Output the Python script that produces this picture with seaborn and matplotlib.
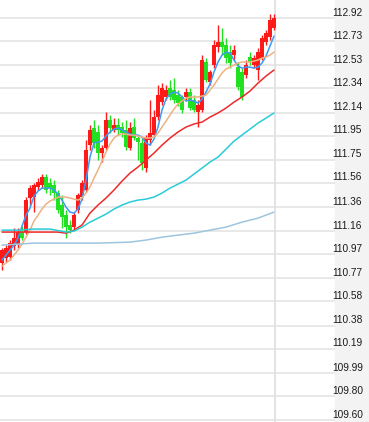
import matplotlib
matplotlib.use('Agg')
import matplotlib.pyplot as plt
import matplotlib.transforms as mtransforms
from matplotlib.patches import Rectangle
import numpy as np
import pandas as pd
import seaborn as sns

# Velas (OHLC)
opens = [110.897, 110.938, 110.946, 111.037, 111.045, 111.153, 111.153, 111.434, 111.442, 111.524,
         111.541, 111.607, 111.557, 111.541, 111.475, 111.376, 111.293, 111.211, 111.194, 111.334,
         111.442, 111.500, 111.871, 112.012, 111.979, 111.805, 111.846, 112.078, 111.995, 112.036,
         112.020, 111.995, 111.846, 112.020, 111.929, 111.888, 111.681, 111.913, 111.954, 112.102,
         112.226, 112.268, 112.342, 112.325, 112.284, 112.268, 112.268, 112.309, 112.243, 112.144,
         112.160, 112.557, 112.391, 112.532, 112.681, 112.722, 112.697, 112.639, 112.614, 112.515,
         112.474, 112.449, 112.598, 112.532, 112.491, 112.590, 112.722, 112.763, 112.837]
closes = [111.004, 111.021, 111.062, 111.103, 111.153, 111.103, 111.417, 111.516, 111.541, 111.566,
          111.607, 111.500, 111.516, 111.475, 111.334, 111.277, 111.194, 111.169, 111.293, 111.458,
          111.557, 111.830, 111.995, 111.888, 111.805, 111.846, 112.078, 112.012, 112.036, 111.995,
          111.970, 111.855, 112.012, 111.929, 111.896, 111.723, 111.929, 111.970, 112.102, 112.284,
          112.342, 112.325, 112.268, 112.243, 112.218, 112.160, 112.309, 112.177, 112.160, 112.202,
          112.573, 112.408, 112.474, 112.697, 112.722, 112.681, 112.590, 112.548, 112.656, 112.350,
          112.268, 112.532, 112.557, 112.590, 112.639, 112.755, 112.796, 112.903, 112.920]
highs = [111.021, 111.045, 111.087, 111.186, 111.186, 111.202, 111.442, 111.541, 111.557, 111.599,
         111.632, 111.632, 111.599, 111.582, 111.500, 111.458, 111.334, 111.252, 111.318, 111.475,
         111.582, 111.913, 112.036, 112.078, 112.036, 111.871, 112.144, 112.119, 112.094, 112.094,
         112.061, 112.078, 112.061, 112.094, 111.954, 111.929, 111.954, 112.243, 112.160, 112.367,
         112.383, 112.367, 112.408, 112.425, 112.325, 112.284, 112.342, 112.342, 112.284, 112.243,
         112.614, 112.590, 112.491, 112.738, 112.862, 112.837, 112.755, 112.697, 112.697, 112.557,
         112.507, 112.573, 112.639, 112.614, 112.672, 112.780, 112.821, 112.953, 112.953]
lows = [110.839, 110.905, 110.922, 111.004, 111.021, 111.087, 111.136, 111.376, 111.318, 111.500,
        111.516, 111.475, 111.458, 111.417, 111.310, 111.186, 111.103, 111.144, 111.169, 111.310,
        111.417, 111.483, 111.830, 111.846, 111.747, 111.731, 111.830, 111.970, 111.979, 111.954,
        111.937, 111.830, 111.830, 111.913, 111.747, 111.665, 111.648, 111.871, 111.937, 112.078,
        112.202, 112.243, 112.243, 112.218, 112.193, 112.136, 112.243, 112.160, 112.144, 112.020,
        112.144, 112.391, 112.367, 112.507, 112.639, 112.614, 112.548, 112.507, 112.573, 112.325,
        112.243, 112.425, 112.532, 112.507, 112.408, 112.573, 112.697, 112.738, 112.821]

# Medias moviles
ma_blue = [110.922, 110.963, 111.004, 111.045, 111.103, 111.202, 111.293, 111.351, 111.450, 111.491,
           111.516, 111.516, 111.516, 111.500, 111.467, 111.417, 111.359, 111.318, 111.310, 111.343,
           111.425, 111.582, 111.772, 111.888, 111.896, 111.904, 111.946, 111.979, 112.003, 112.012,
           111.995, 111.979, 111.962, 111.954, 111.954, 111.937, 111.888, 111.871, 111.921, 112.020,
           112.160, 112.251, 112.292, 112.309, 112.301, 112.268, 112.235, 112.243, 112.235, 112.218,
           112.251, 112.309, 112.375, 112.474, 112.557, 112.614, 112.639, 112.631, 112.573, 112.524,
           112.507, 112.515, 112.515, 112.507, 112.515, 112.548, 112.606, 112.689, 112.771]
ma_tan = [110.872, 110.897, 110.922, 110.963, 111.004, 111.054, 111.111, 111.169, 111.244, 111.293,
          111.343, 111.384, 111.409, 111.425, 111.442, 111.442, 111.442, 111.434, 111.425, 111.417,
          111.434, 111.475, 111.524, 111.599, 111.665, 111.739, 111.813, 111.880, 111.929, 111.954,
          111.962, 111.962, 111.954, 111.954, 111.946, 111.937, 111.929, 111.929, 111.937, 111.970,
          112.020, 112.069, 112.119, 112.169, 112.210, 112.235, 112.259, 112.268, 112.268, 112.268,
          112.276, 112.284, 112.325, 112.367, 112.416, 112.466, 112.499, 112.515, 112.532, 112.548,
          112.557, 112.557, 112.557, 112.565, 112.573, 112.590, 112.598, 112.614, 112.639]
ma_red_idx = list(range(0, 69, 2))
ma_red = [111.153, 111.153, 111.153, 111.153, 111.153, 111.153, 111.153, 111.153, 111.144, 111.169,
          111.211, 111.310, 111.376, 111.434, 111.500, 111.574, 111.640, 111.690, 111.747, 111.805,
          111.871, 111.929, 111.979, 112.020, 112.045, 112.061, 112.102, 112.136, 112.177, 112.226,
          112.268, 112.317, 112.383, 112.441, 112.491]
ma_cyan_idx = [0, 4, 8, 12] + list(range(16, 69, 2))
ma_cyan = [111.169, 111.169, 111.178, 111.178, 111.153, 111.161, 111.194, 111.235, 111.268, 111.301,
           111.343, 111.376, 111.401, 111.417, 111.425, 111.442, 111.475, 111.516, 111.549, 111.582,
           111.632, 111.681, 111.731, 111.772, 111.838, 111.904, 111.954, 112.003, 112.053, 112.094,
           112.136]
ma_slow_idx = [0, 8, 16, 24, 32, 36, 40, 44, 48, 52, 56, 60, 64, 68]
ma_slow = [111.045, 111.062, 111.062, 111.062, 111.070, 111.087, 111.111, 111.128, 111.144, 111.169,
           111.194, 111.235, 111.268, 111.318]

tick_labels = ['112.92', '112.73', '112.53', '112.34', '112.14', '111.95', '111.75', '111.56', '111.36',
               '111.16', '110.97', '110.77', '110.58', '110.38', '110.19', '109.99', '109.80', '109.60']

df = pd.DataFrame({'open': opens, 'close': closes, 'high': highs, 'low': lows})
df['x'] = np.arange(len(df))

sns.set_style('white')
plt.rcParams['font.family'] = ['Liberation Sans', 'DejaVu Sans']

W, H = 369, 422
fig = plt.figure(figsize=(W / 100, H / 100), dpi=100)
fig.patch.set_facecolor('white')
fig.patches.append(Rectangle((335 / W, 0), 1 - 335 / W, 1, transform=fig.transFigure,
                             color='#F3F3F3', zorder=-5))
ax = fig.add_axes([0, 0, 335 / W, 1])
ax.set_facecolor('none')

# rejilla
for t in tick_labels:
    ax.axhline(float(t), color='#E6E6E6', lw=1.3, zorder=0)
ax.axvline(len(df) - 1 + 0.25, color='#E2E2E2', lw=1.3, zorder=0)

# velas
up = df['close'] >= df['open']
cols = np.where(up, '#FF1A1A', '#22E022')
ax.vlines(df['x'], df['low'], df['high'], color=cols, lw=1, zorder=2)
ax.bar(df['x'], (df['close'] - df['open']).abs(), bottom=df[['open', 'close']].min(axis=1),
       width=0.95, color=cols, linewidth=0, zorder=3)

# medias
sns.lineplot(x=df['x'], y=ma_blue, ax=ax, color='#3D9BF5', lw=1.1, zorder=5)
sns.lineplot(x=df['x'], y=ma_tan, ax=ax, color='#EDB282', lw=1.1, zorder=5)
sns.lineplot(x=ma_red_idx, y=ma_red, ax=ax, color='#EE2A2A', lw=1.1, zorder=5)
sns.lineplot(x=ma_cyan_idx, y=ma_cyan, ax=ax, color='#2ACBD8', lw=1.1, zorder=5)
sns.lineplot(x=ma_slow_idx, y=ma_slow, ax=ax, color='#9EC5DE', lw=1.1, zorder=5)

ax.set_xlim(-0.5, 83.25)
ax.set_ylim(109.585, 113.069)
ax.set_xticks([])
ax.set_yticks([])
ax.set_xlabel('')
ax.set_ylabel('')
for s in ax.spines.values():
    s.set_visible(False)

# etiquetas de precio a la derecha
trans = mtransforms.offset_copy(ax.get_yaxis_transform(), fig=fig, y=1.7, units='points')
for t in tick_labels:
    ax.text(332 / 335, float(t), t, transform=trans, ha='left', va='baseline',
            fontsize=7.3, color='#1A1A1A')

fig.savefig('out.png', dpi=100)
